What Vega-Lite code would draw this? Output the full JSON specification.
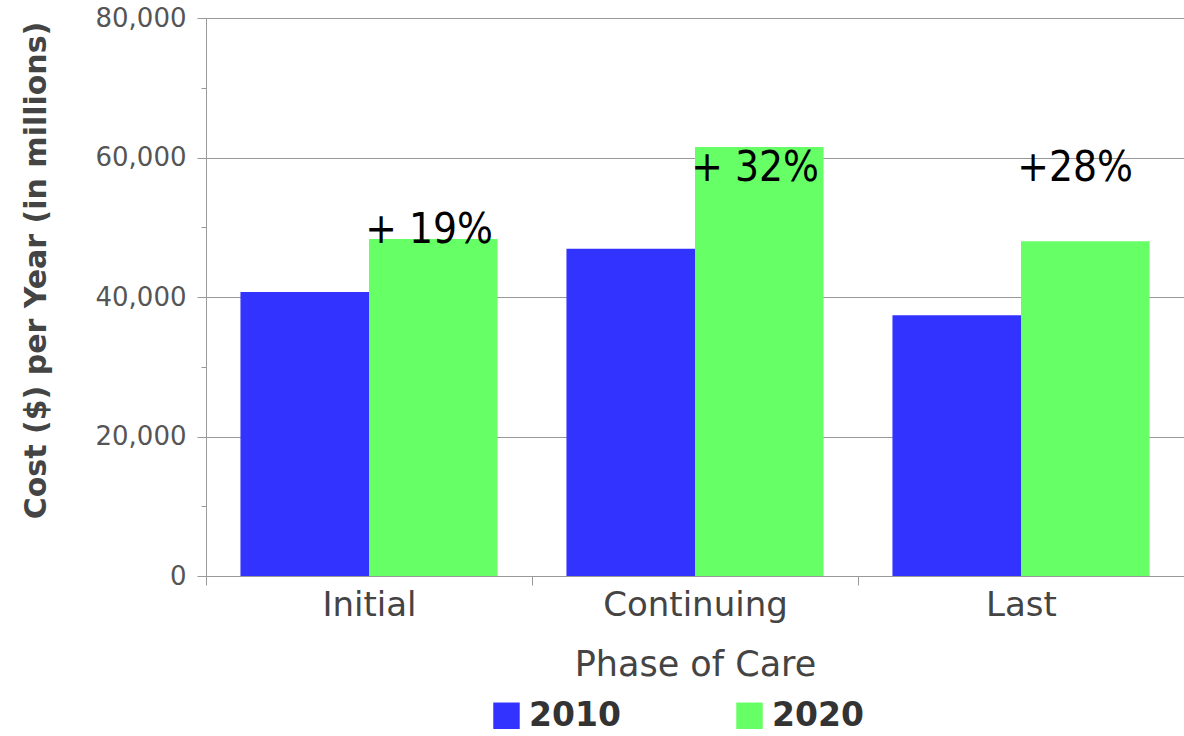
{
  "$schema": "https://vega.github.io/schema/vega-lite/v6.json",
  "autosize": {"type": "none"},
  "padding": {"left": 206, "top": 18, "right": 0, "bottom": 160},
  "width": 978,
  "height": 558,
  "background": "white",
  "config": {"view": {"stroke": null}},
  "datasets": {
    "bars": [
      {"phase": "Initial", "year": "2010", "cost": 40700},
      {"phase": "Initial", "year": "2020", "cost": 48300},
      {"phase": "Continuing", "year": "2010", "cost": 46900},
      {"phase": "Continuing", "year": "2020", "cost": 61500},
      {"phase": "Last", "year": "2010", "cost": 37400},
      {"phase": "Last", "year": "2020", "cost": 48000}
    ],
    "notes": [
      {"phase": "Initial", "year": "2020", "pos": 47700, "label": "+ 19%"},
      {"phase": "Continuing", "year": "2020", "pos": 56600, "label": "+ 32%"},
      {"phase": "Last", "year": "2020", "pos": 56600, "label": "+28%"}
    ]
  },
  "layer": [
    {
      "data": {"name": "bars"},
      "mark": {"type": "bar"},
      "encoding": {
        "x": {
          "field": "phase", "type": "nominal",
          "sort": ["Initial", "Continuing", "Last"],
          "scale": {"paddingInner": 0, "paddingOuter": 0},
          "axis": {
            "title": "Phase of Care",
            "labelAngle": 0,
            "labelLimit": 0,
            "tickBand": "extent",
            "tickSize": 9,
            "tickColor": "#999999",
            "domainColor": "#999999",
            "labelFont": "DejaVu Sans",
            "labelFontSize": 34,
            "labelColor": "#444444",
            "labelPadding": 3,
            "titleFont": "DejaVu Sans",
            "titleFontSize": 35,
            "titleFontWeight": "normal",
            "titleColor": "#444444",
            "titlePadding": 25
          }
        },
        "xOffset": {
          "field": "year", "type": "nominal",
          "scale": {"paddingInner": 0, "paddingOuter": 0.268}
        },
        "y": {
          "field": "cost", "type": "quantitative",
          "scale": {"domain": [0, 80000], "nice": false},
          "axis": {
            "title": "Cost ($) per Year (in millions)",
            "values": [0, 10000, 20000, 30000, 40000, 50000, 60000, 70000, 80000],
            "labelExpr": "datum.value % 20000 == 0 ? format(datum.value, ',') : ''",
            "grid": true,
            "gridColor": "#999999",
            "gridOpacity": {"condition": {"test": "datum.value % 20000 == 0", "value": 1}, "value": 0},
            "tickSize": {"condition": {"test": "datum.value % 20000 == 0", "value": 9}, "value": 5},
            "tickColor": "#999999",
            "domainColor": "#999999",
            "labelFont": "DejaVu Sans",
            "labelFontSize": 26,
            "labelColor": "#555555",
            "labelPadding": 11,
            "titleFont": "DejaVu Sans",
            "titleFontSize": 30,
            "titleFontWeight": "bold",
            "titleColor": "#444444",
            "titlePadding": 44,
            "titleY": 252
          }
        },
        "color": {
          "field": "year", "type": "nominal",
          "scale": {"domain": ["2010", "2020"], "range": ["#3333ff", "#66ff66"]},
          "legend": {
            "title": null,
            "orient": "none",
            "legendX": 284,
            "legendY": 681,
            "direction": "horizontal",
            "symbolType": "square",
            "symbolSize": 700,
            "symbolStrokeWidth": 0,
            "symbolOpacity": 1,
            "labelFont": "DejaVu Sans",
            "labelFontSize": 33,
            "labelFontWeight": "bold",
            "labelColor": "#333333",
            "labelOffset": 6,
            "columnPadding": 112
          }
        }
      }
    },
    {
      "data": {"name": "notes"},
      "mark": {
        "type": "text",
        "align": "left",
        "baseline": "alphabetic",
        "dx": -68,
        "font": "DejaVu Sans Condensed",
        "fontSize": 42,
        "color": "black"
      },
      "encoding": {
        "x": {"field": "phase", "type": "nominal", "sort": ["Initial", "Continuing", "Last"]},
        "xOffset": {"field": "year", "type": "nominal"},
        "y": {"field": "pos", "type": "quantitative"},
        "text": {"field": "label", "type": "nominal"}
      }
    }
  ]
}
